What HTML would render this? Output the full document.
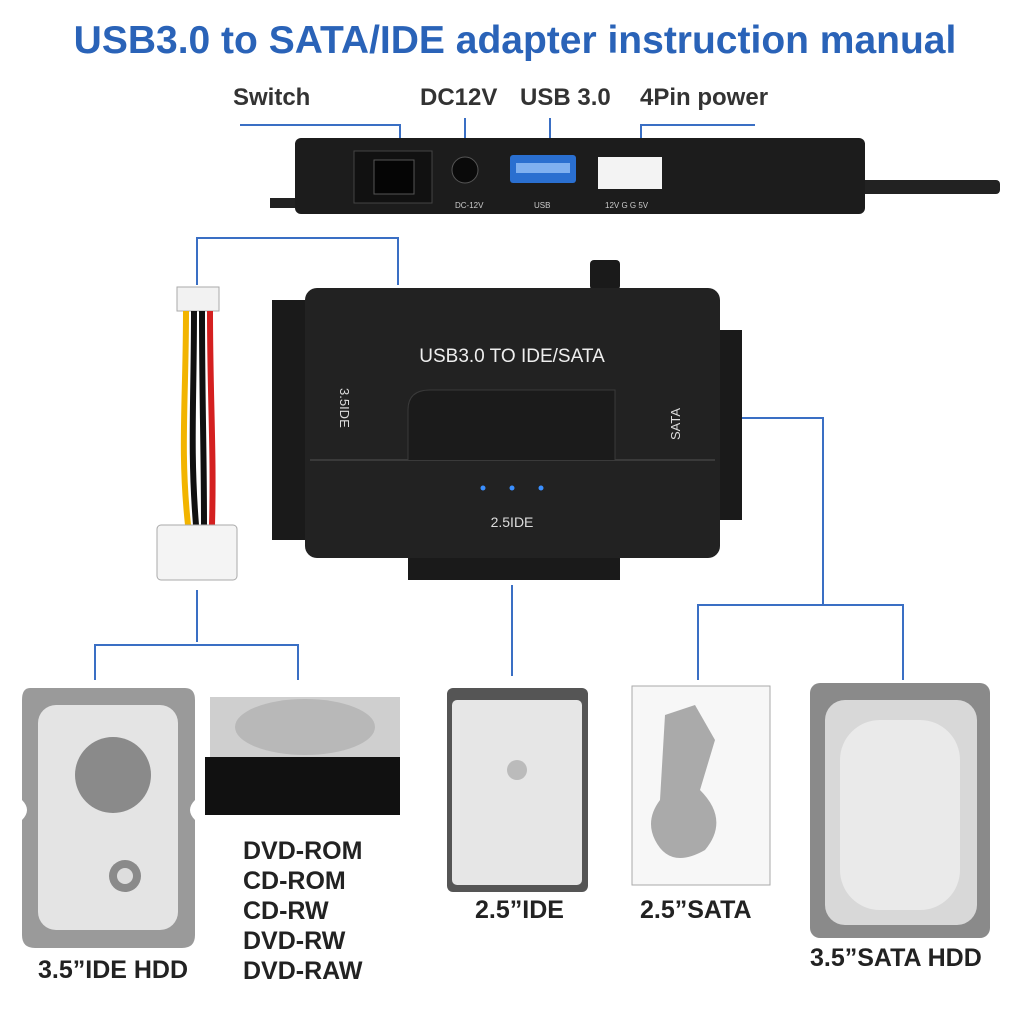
<!DOCTYPE html>
<html><head><meta charset="utf-8"><style>
body{margin:0;width:1024px;height:1024px;background:#fff;position:relative;overflow:hidden;font-family:"Liberation Sans",sans-serif}
.t{position:absolute;font-weight:bold;white-space:nowrap}
</style></head><body>
<div class="t" style="left:0;width:1030px;text-align:center;top:19px;font-size:39px;color:#2a63b8">USB3.0 to SATA/IDE adapter instruction manual</div>
<div class="t" style="left:233px;top:84px;font-size:24px;color:#333">Switch</div>
<div class="t" style="left:420px;top:84px;font-size:24px;color:#333">DC12V</div>
<div class="t" style="left:520px;top:84px;font-size:24px;color:#333">USB 3.0</div>
<div class="t" style="left:640px;top:84px;font-size:24px;color:#333">4Pin power</div>
<svg width="1024" height="1024" style="position:absolute;left:0;top:0">
<g stroke="#3a6fc4" stroke-width="2" fill="none">
<path d="M240 125H400V178"/><path d="M465 118V158"/><path d="M550 118V158"/><path d="M755 125H641V158"/>
<path d="M197 285V238H398V285"/><path d="M197 590V642M95 680V645H298V680"/>
<path d="M512 585V676"/><path d="M740 418H823V605M698 680V605H903V680"/>
</g>
<rect x="270" y="198" width="40" height="10" fill="#222"/>
<rect x="850" y="180" width="150" height="14" rx="4" fill="#222"/>
<rect x="295" y="138" width="570" height="76" rx="6" fill="#1c1c1c"/>
<rect x="354" y="151" width="78" height="52" fill="#111" stroke="#444"/>
<rect x="374" y="160" width="40" height="34" fill="#050505" stroke="#555"/>
<circle cx="465" cy="170" r="13" fill="#0a0a0a" stroke="#555"/>
<rect x="510" y="155" width="66" height="28" rx="3" fill="#2a6fd0"/>
<rect x="516" y="163" width="54" height="10" fill="#7fb0f0"/>
<rect x="598" y="157" width="64" height="32" fill="#f3f3f3"/>
<text x="455" y="208" font-size="8" fill="#ccc" font-family="Liberation Sans">DC-12V</text>
<text x="534" y="208" font-size="8" fill="#ccc" font-family="Liberation Sans">USB</text>
<text x="605" y="208" font-size="8" fill="#ccc" font-family="Liberation Sans">12V G G 5V</text>
<rect x="177" y="287" width="42" height="24" fill="#f2f2f2" stroke="#aaa"/>
<path d="M186 311C186 400 180 450 188 525" stroke="#f2b400" stroke-width="6" fill="none"/>
<path d="M194 311C194 400 190 450 196 525" stroke="#111" stroke-width="6" fill="none"/>
<path d="M202 311C202 400 204 450 204 525" stroke="#111" stroke-width="6" fill="none"/>
<path d="M210 311C210 400 214 450 212 525" stroke="#d42020" stroke-width="6" fill="none"/>
<rect x="157" y="525" width="80" height="55" rx="4" fill="#f4f4f4" stroke="#aaa"/>
<rect x="272" y="300" width="36" height="240" fill="#1a1a1a"/>
<rect x="715" y="330" width="27" height="190" fill="#1a1a1a"/>
<rect x="408" y="550" width="212" height="30" fill="#1a1a1a"/>
<rect x="590" y="260" width="30" height="30" rx="4" fill="#1a1a1a"/>
<rect x="305" y="288" width="415" height="270" rx="12" fill="#222"/>
<path d="M310 460H715" stroke="#3a3a3a" stroke-width="2"/>
<path d="M408 460V410Q408 390 430 390H615V460" fill="#1b1b1b" stroke="#3a3a3a"/>
<circle cx="483" cy="488" r="2.5" fill="#3a8fff"/><circle cx="512" cy="488" r="2.5" fill="#3a8fff"/><circle cx="541" cy="488" r="2.5" fill="#3a8fff"/>
<text x="512" y="362" font-size="19" fill="#eee" text-anchor="middle" font-family="Liberation Sans">USB3.0 TO IDE/SATA</text>
<text x="512" y="527" font-size="14" fill="#ddd" text-anchor="middle" font-family="Liberation Sans">2.5IDE</text>
<text x="340" y="388" font-size="13" fill="#ddd" transform="rotate(90 340 388)" font-family="Liberation Sans">3.5IDE</text>
<text x="680" y="440" font-size="13" fill="#ddd" transform="rotate(-90 680 440)" font-family="Liberation Sans">SATA</text>
<path d="M30 688H185Q195 688 195 700V800Q185 810 195 820V935Q195 948 182 948H35Q22 948 22 935V820Q32 810 22 800V700Q22 688 30 688Z" fill="#9a9a9a"/>
<rect x="38" y="705" width="140" height="225" rx="18" fill="#e4e4e4"/>
<circle cx="113" cy="775" r="38" fill="#8a8a8a"/><circle cx="125" cy="876" r="16" fill="#8a8a8a"/><circle cx="125" cy="876" r="8" fill="#ddd"/>
<rect x="210" y="697" width="190" height="60" fill="#cfcfcf"/>
<ellipse cx="305" cy="727" rx="70" ry="28" fill="#b8b8b8"/>
<rect x="205" y="757" width="195" height="58" fill="#111"/>
<rect x="447" y="688" width="141" height="204" rx="6" fill="#555"/>
<rect x="452" y="700" width="130" height="185" rx="5" fill="#e6e6e6"/>
<circle cx="517" cy="770" r="10" fill="#bbb"/>
<rect x="632" y="686" width="138" height="199" fill="#f7f7f7" stroke="#aaa"/>
<path d="M665 715L695 705L715 740L700 790Q730 820 705 850Q670 870 655 840Q645 820 660 800Z" fill="#aaa"/>
<rect x="810" y="683" width="180" height="255" rx="10" fill="#8a8a8a"/>
<rect x="825" y="700" width="152" height="225" rx="20" fill="#d8d8d8"/>
<rect x="840" y="720" width="120" height="190" rx="40" fill="#eaeaea"/>
</svg>
<div class="t" style="left:38px;top:956px;font-size:25px;color:#222">3.5”IDE HDD</div>
<div class="t" style="left:243px;top:836px;font-size:25px;line-height:30px;color:#222">DVD-ROM<br>CD-ROM<br>CD-RW<br>DVD-RW<br>DVD-RAW</div>
<div class="t" style="left:475px;top:896px;font-size:25px;color:#222">2.5”IDE</div>
<div class="t" style="left:640px;top:896px;font-size:25px;color:#222">2.5”SATA</div>
<div class="t" style="left:810px;top:944px;font-size:25px;color:#222">3.5”SATA HDD</div>
</body></html>
